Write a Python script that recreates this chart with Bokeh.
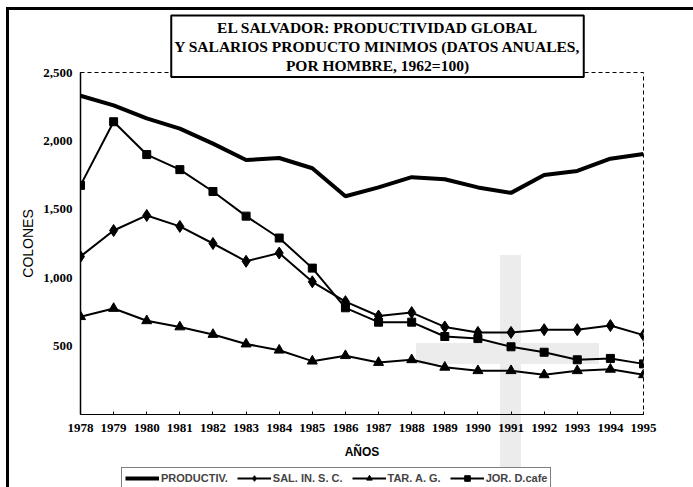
from bokeh.plotting import figure
from bokeh.layouts import column
from bokeh.models import (Range1d, FixedTicker, NumeralTickFormatter, Legend,
                          LegendItem, Label)
from bokeh.embed import file_html
from bokeh.resources import INLINE

years = list(range(1978, 1996))
productiv = [2330, 2260, 2165, 2090, 1980, 1860, 1875, 1800, 1595, 1660,
             1735, 1720, 1660, 1620, 1750, 1780, 1870, 1905]
sal_in_sc = [1155, 1345, 1455, 1375, 1250, 1120, 1180, 970, 825, 720,
             745, 640, 600, 600, 620, 620, 650, 580]
tar_ag = [715, 775, 685, 640, 585, 515, 470, 390, 430, 380,
          400, 345, 320, 320, 290, 320, 330, 290]
jor_dcafe = [1675, 2140, 1900, 1790, 1630, 1450, 1290, 1070, 780, 675,
             675, 570, 555, 495, 455, 400, 410, 370]
y_ticks = [500, 1000, 1500, 2000, 2500]
series_names = ["PRODUCTIV.", "SAL. IN. S. C.", "TAR. A. G.", "JOR. D.cafe"]
title_lines = ["EL SALVADOR: PRODUCTIVIDAD GLOBAL",
               "Y SALARIOS PRODUCTO MINIMOS (DATOS ANUALES,",
               "POR HOMBRE, 1962=100)"]

fig = figure(width=693, height=467, x_range=Range1d(1978, 1995),
             y_range=Range1d(0, 2500), output_backend="svg",
             toolbar_location=None, min_border_left=80, min_border_right=50,
             min_border_top=72, min_border_bottom=53)
# transparent canvas so page decorations (scan border lines, grey marks) show
fig.background_fill_alpha = 0
fig.border_fill_alpha = 0
fig.styles = {
    "background-color": "white",
    "background-image": ("linear-gradient(#000,#000), linear-gradient(#000,#000), "
                         "linear-gradient(#ececec,#ececec), linear-gradient(#ececec,#ececec)"),
    "background-position": "6px 7px, 6px 7px, 500px 255px, 416px 343px",
    "background-size": "100% 3px, 3px 100%, 21px 240px, 183px 21px",
    "background-repeat": "no-repeat",
}
fig.xgrid.visible = False
fig.ygrid.visible = False
fig.outline_line_color = "black"
fig.outline_line_dash = "4 3"
fig.outline_line_width = 1

fig.line(years, productiv, line_width=4, color="black")
fig.line(years, sal_in_sc, line_width=2, color="black")
fig.scatter(years, sal_in_sc, marker="diamond", size=12, color="black")
fig.line(years, tar_ag, line_width=2, color="black")
fig.scatter(years, tar_ag, marker="triangle", size=10, color="black")
fig.line(years, jor_dcafe, line_width=2, color="black")
fig.scatter(years, jor_dcafe, marker="square", size=8, color="black")

# axes
fig.xaxis.ticker = FixedTicker(ticks=years)
fig.xaxis.major_tick_in = 3
fig.xaxis.major_tick_out = 0
fig.xaxis.minor_tick_line_color = None
fig.xaxis.axis_line_color = "black"
fig.xaxis.axis_line_width = 1
fig.xaxis.major_label_text_font = "Liberation Serif"
fig.xaxis.major_label_text_font_style = "bold"
fig.xaxis.major_label_text_font_size = "13px"
fig.xaxis.major_label_text_color = "black"
fig.xaxis.major_label_standoff = 9
fig.xaxis.axis_label = "AÑOS"
fig.xaxis.axis_label_text_font = "Liberation Sans"
fig.xaxis.axis_label_text_font_style = "bold"
fig.xaxis.axis_label_text_font_size = "12px"
fig.xaxis.axis_label_text_color = "black"
fig.xaxis.axis_label_standoff = 10

fig.yaxis.ticker = FixedTicker(ticks=y_ticks)
fig.yaxis.formatter = NumeralTickFormatter(format="0,0")
fig.yaxis.major_tick_in = 0
fig.yaxis.major_tick_out = 0
fig.yaxis.minor_tick_line_color = None
fig.yaxis.axis_line_color = "black"
fig.yaxis.axis_line_width = 1.5
fig.yaxis.major_label_text_font = "Liberation Serif"
fig.yaxis.major_label_text_font_style = "bold"
fig.yaxis.major_label_text_font_size = "13px"
fig.yaxis.major_label_text_color = "black"
fig.yaxis.major_label_standoff = 8
fig.yaxis.axis_label = "COLONES"
fig.yaxis.axis_label_text_font = "Liberation Sans"
fig.yaxis.axis_label_text_font_style = "normal"
fig.yaxis.axis_label_text_font_size = "14px"
fig.yaxis.axis_label_text_color = "black"
fig.yaxis.axis_label_standoff = 4

# title box (placed in the top side panel so it is not clipped by the frame)
fig.add_layout(Label(x=377, y=15, x_units="canvas", y_units="canvas",
                     text="\n".join(title_lines), text_align="center",
                     text_baseline="top", text_font="Liberation Serif",
                     text_font_style="bold", text_font_size="15.5px",
                     text_line_height=1.13, text_color="black",
                     border_line_color="black", border_line_width=2,
                     background_fill_color="white", padding=3), "above")

# legend strip below the chart (its sample glyphs sit outside its own ranges)
leg = figure(width=693, height=20, x_range=Range1d(0, 1), y_range=Range1d(0, 1),
             output_backend="svg", toolbar_location=None,
             x_axis_location=None, y_axis_location=None,
             min_border_left=80, min_border_right=50, min_border_top=0,
             min_border_bottom=0)
leg.background_fill_alpha = 0
leg.border_fill_alpha = 0
leg.outline_line_color = None
leg.xgrid.visible = False
leg.ygrid.visible = False
leg.styles = {
    "background-color": "white",
    "background-image": "linear-gradient(#000,#000), linear-gradient(#ececec,#ececec)",
    "background-position": "6px 0px, 500px 0px",
    "background-size": "3px 100%, 21px 100%",
    "background-repeat": "no-repeat",
}
off = [-5, -4]
k0 = leg.line(off, off, line_width=4, color="black")
k1 = leg.line(off, off, line_width=2, color="black")
n1 = leg.scatter(off, off, marker="diamond", size=12, color="black")
k2 = leg.line(off, off, line_width=2, color="black")
n2 = leg.scatter(off, off, marker="triangle", size=10, color="black")
k3 = leg.line(off, off, line_width=2, color="black")
n3 = leg.scatter(off, off, marker="square", size=8, color="black")

legend = Legend(items=[LegendItem(label=series_names[0], renderers=[k0]),
                       LegendItem(label=series_names[1], renderers=[k1, n1]),
                       LegendItem(label=series_names[2], renderers=[k2, n2]),
                       LegendItem(label=series_names[3], renderers=[k3, n3])],
                orientation="horizontal", location=(41, -2),
                border_line_color="black", border_line_width=1,
                background_fill_color="white", background_fill_alpha=1,
                label_text_font="Liberation Sans", label_text_font_style="bold",
                label_text_font_size="11px", label_height=14,
                glyph_width=34, glyph_height=14, label_standoff=2,
                spacing=9, padding=3, margin=0)
leg.add_layout(legend, "center")

layout = column(fig, leg, spacing=0)
open("out.html", "w").write(file_html(layout, INLINE))
